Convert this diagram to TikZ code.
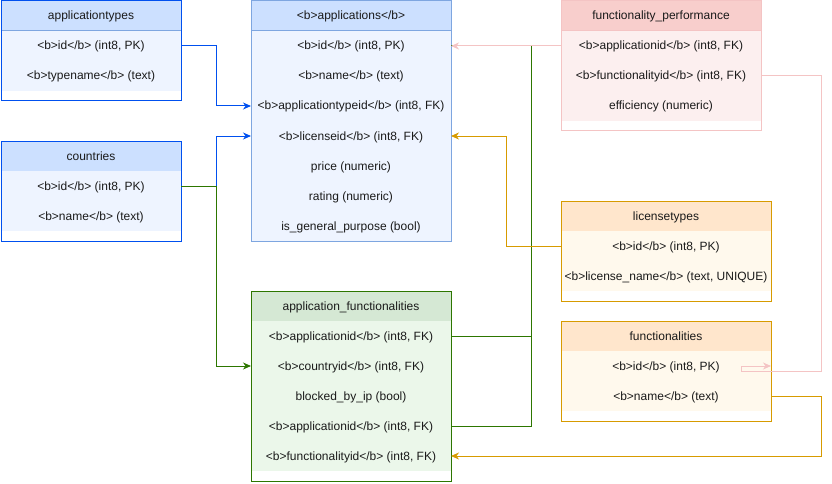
\documentclass[tikz,border=0pt]{standalone}
\usepackage{fontspec}
\setmainfont{Liberation Sans}
\usetikzlibrary{positioning, arrows.meta}

\definecolor{bluehead}{HTML}{CCE0FF}
\definecolor{bluerow}{HTML}{EEF4FF}
\definecolor{bluebd}{HTML}{0050EF}
\definecolor{bluebdl}{HTML}{7EA6E0}
\definecolor{greenhead}{HTML}{D5E8D4}
\definecolor{greenrow}{HTML}{EBF7EA}
\definecolor{greenbd}{HTML}{2D7600}
\definecolor{greensep}{HTML}{82B366}
\definecolor{pinkhead}{HTML}{F8CECC}
\definecolor{pinkrow}{HTML}{FCEFEF}
\definecolor{pinkbd}{HTML}{F4C4C4}
\definecolor{orangehead}{HTML}{FFE6CC}
\definecolor{orangerow}{HTML}{FFF9ED}
\definecolor{orangebd}{HTML}{D79B00}
\definecolor{orangesep}{HTML}{E6C57A}
\definecolor{txt}{HTML}{1A1A1A}

\begin{document}
\begin{tikzpicture} [x=1pt, y=-1pt,
            line width=1pt,
            node distance = 0pt,
            font=\fontsize{12pt}{14pt}\selectfont,
            every node/.style={inner sep=0pt, outer sep=0pt, text=txt, minimum height=30pt,
                text height=9pt, text depth=1pt},
            arr/.style={-{Stealth[length=8pt, width=7pt, inset=2.5pt]}},
            bluehdr/.style={fill=bluehead, draw=bluebdl},
            bluerw/.style={fill=bluerow},
            greenhdr/.style={fill=greenhead, draw=greensep},
            greenrw/.style={fill=greenrow},
            pinkhdr/.style={fill=pinkhead, draw=pinkbd},
            pinkrw/.style={fill=pinkrow},
            orangehdr/.style={fill=orangehead, draw=orangesep},
            orangerw/.style={fill=orangerow}]
            \useasboundingbox (0,0) rectangle (832,484);

            % Table applicationtypes
            \node (at) [bluehdr, minimum width=180pt] at (91,16) {applicationtypes};
            \node (at1) [bluerw, minimum width=180pt, below = of at] {<b>id</b> (int8, PK)};
            \node (at2) [bluerw, minimum width=180pt, below = of at1] {<b>typename</b> (text)};
            \draw [bluebd] (at.north west) rectangle ([yshift=-10pt]at2.south east);

            % Table countries
            \node (co) [bluehdr, minimum width=180pt] at (91,156) {countries};
            \node (co1) [bluerw, minimum width=180pt, below = of co] {<b>id</b> (int8, PK)};
            \node (co2) [bluerw, minimum width=180pt, below = of co1] {<b>name</b> (text)};
            \draw [bluebd] (co.north west) rectangle ([yshift=-10pt]co2.south east);

            % Table applications
            \node (ap) [bluehdr, minimum width=200pt] at (351,16) {<b>applications</b>};
            \node (ap1) [bluerw, minimum width=200pt, below = of ap] {<b>id</b> (int8, PK)};
            \node (ap2) [bluerw, minimum width=200pt, below = of ap1] {<b>name</b> (text)};
            \node (ap3) [bluerw, minimum width=200pt, below = of ap2] {<b>applicationtypeid</b> (int8, FK)};
            \node (ap4) [bluerw, minimum width=200pt, below = of ap3] {<b>licenseid</b> (int8, FK)};
            \node (ap5) [bluerw, minimum width=200pt, below = of ap4] {price (numeric)};
            \node (ap6) [bluerw, minimum width=200pt, below = of ap5] {rating (numeric)};
            \node (ap7) [bluerw, minimum width=200pt, below = of ap6] {is\_general\_purpose (bool)};
            \draw [bluebdl] (ap.north west) rectangle (ap7.south east);

            % Table functionality_performance
            \node (fp) [pinkhdr, minimum width=200pt] at (661,16) {functionality\_performance};
            \node (fp1) [pinkrw, minimum width=200pt, below = of fp] {<b>applicationid</b> (int8, FK)};
            \node (fp2) [pinkrw, minimum width=200pt, below = of fp1] {<b>functionalityid</b> (int8, FK)};
            \node (fp3) [pinkrw, minimum width=200pt, below = of fp2] {efficiency (numeric)};
            \draw [pinkbd] (fp.north west) rectangle ([yshift=-10pt]fp3.south east);

            % Table licensetypes
            \node (lt) [orangehdr, minimum width=210pt] at (666,216) {licensetypes};
            \node (lt1) [orangerw, minimum width=210pt, below = of lt] {<b>id</b> (int8, PK)};
            \node (lt2) [orangerw, minimum width=210pt, below = of lt1] {<b>license\_name</b> (text, UNIQUE)};
            \draw [orangebd] (lt.north west) rectangle ([yshift=-10pt]lt2.south east);

            % Table functionalities
            \node (fu) [orangehdr, minimum width=210pt] at (666,336) {functionalities};
            \node (fu1) [orangerw, minimum width=210pt, below = of fu] {<b>id</b> (int8, PK)};
            \node (fu2) [orangerw, minimum width=210pt, below = of fu1] {<b>name</b> (text)};
            \draw [orangebd] (fu.north west) rectangle ([yshift=-10pt]fu2.south east);

            % Table application_functionalities
            \node (af) [greenhdr, minimum width=200pt] at (351,306) {application\_functionalities};
            \node (af1) [greenrw, minimum width=200pt, below = of af] {<b>applicationid</b> (int8, FK)};
            \node (af2) [greenrw, minimum width=200pt, below = of af1] {<b>countryid</b> (int8, FK)};
            \node (af3) [greenrw, minimum width=200pt, below = of af2] {blocked\_by\_ip (bool)};
            \node (af4) [greenrw, minimum width=200pt, below = of af3] {<b>applicationid</b> (int8, FK)};
            \node (af5) [greenrw, minimum width=200pt, below = of af4] {<b>functionalityid</b> (int8, FK)};
            \draw [greenbd] (af.north west) rectangle ([yshift=-10pt]af5.south east);

            % Arrows
            \draw [arr, bluebd] (at1.east) -- ++(35,0) |- (ap3.west);
            \draw [arr, bluebd] (co1.east) -- ++(35,0) |- (ap4.west);
            \draw [arr, greenbd] (co1.east) -- ++(35,0) |- (af2.west);
            \draw [greenbd] (af1.east) -- ++(80,0) |- (ap1.east);
            \draw [greenbd] (af4.east) -- ++(80,0) |- (ap1.east);
            \draw [arr, pinkbd] (fp1.west) -- (ap1.east);
            \draw [arr, pinkbd] (fp2.east) -- ++(60,0) -- ++(0,295) -- ++(-80,0) -- ++(0,-5) -- (fu1.east);
            \draw [arr, orangebd] (lt1.west) -- ++(-55,0) |- (ap4.east);
            \draw [arr, orangebd] (fu2.east) -- ++(50,0) |- (af5.east);
        \end{tikzpicture}
\end{document}
